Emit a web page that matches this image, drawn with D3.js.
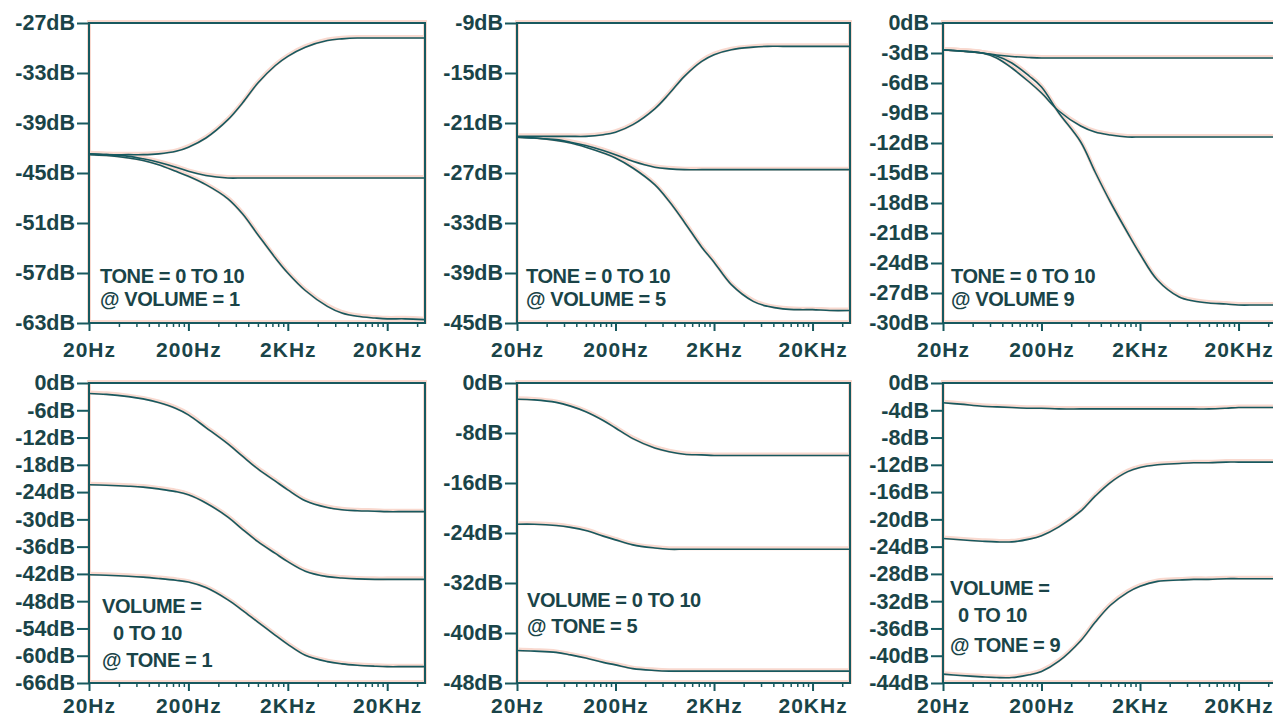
<!DOCTYPE html>
<html>
<head>
<meta charset="utf-8">
<script src="https://cdn.jsdelivr.net/npm/d3@7"></script>
<style>
  html, body { margin: 0; padding: 0; background: #ffffff; }
  svg { display: block; }
  text { font-family: "Liberation Sans", Arial, sans-serif; font-weight: bold; fill: #1a4448; }
</style>
</head>
<body>
<script>
// ---------------- DATA ----------------
const freqs = [20, 30, 50, 70, 100, 150, 200, 300, 500, 700, 1000, 1500, 2000, 3000, 5000, 7000, 10000, 15000, 20000, 30000, 48000];

const xTickValues = [20, 200, 2000, 20000];
const xTickLabels = ["20Hz", "200Hz", "2KHz", "20KHz"];

// Panel 1: TONE = 0 TO 10 @ VOLUME = 1
const vol1Ticks = [-27, -33, -39, -45, -51, -57, -63];
const vol1ToneHigh = [-42.7, -42.8, -42.8, -42.8, -42.7, -42.4, -41.9, -40.8, -38.6, -36.6, -34.2, -32.1, -31.0, -29.9, -29.1, -28.9, -28.8, -28.8, -28.8, -28.8, -28.8];
const vol1ToneMid  = [-42.7, -42.8, -43.0, -43.3, -43.7, -44.3, -44.8, -45.3, -45.6, -45.6, -45.6, -45.6, -45.6, -45.6, -45.6, -45.6, -45.6, -45.6, -45.6, -45.6, -45.6];
const vol1ToneLow  = [-42.8, -42.9, -43.2, -43.5, -44.0, -44.8, -45.4, -46.4, -48.1, -49.9, -52.4, -55.2, -57.0, -59.1, -61.0, -61.8, -62.2, -62.4, -62.5, -62.5, -62.6];

// Panel 2: TONE = 0 TO 10 @ VOLUME = 5
const vol5Ticks = [-9, -15, -21, -27, -33, -39, -45];
const vol5ToneHigh = [-22.6, -22.6, -22.6, -22.6, -22.6, -22.4, -22.1, -21.2, -19.3, -17.5, -15.4, -13.6, -12.8, -12.2, -11.9, -11.8, -11.8, -11.8, -11.8, -11.8, -11.8];
const vol5ToneMid  = [-22.7, -22.8, -23.0, -23.3, -23.7, -24.3, -24.8, -25.6, -26.3, -26.5, -26.6, -26.6, -26.6, -26.6, -26.6, -26.6, -26.6, -26.6, -26.6, -26.6, -26.6];
const vol5ToneLow  = [-22.7, -22.8, -23.1, -23.4, -23.9, -24.6, -25.2, -26.4, -28.4, -30.4, -32.9, -35.9, -37.7, -40.4, -42.4, -43.0, -43.3, -43.4, -43.4, -43.5, -43.5];

// Panel 3: TONE = 0 TO 10 @ VOLUME 9
const vol9Ticks = [0, -3, -6, -9, -12, -15, -18, -21, -24, -27, -30];
const vol9ToneHigh = [-2.7, -2.8, -3.0, -3.2, -3.35, -3.45, -3.5, -3.5, -3.5, -3.5, -3.5, -3.5, -3.5, -3.5, -3.5, -3.5, -3.5, -3.5, -3.5, -3.5, -3.5];
const vol9ToneMid  = [-2.7, -2.8, -3.0, -3.5, -4.5, -5.9, -7.0, -8.8, -10.3, -10.9, -11.2, -11.4, -11.4, -11.4, -11.4, -11.4, -11.4, -11.4, -11.4, -11.4, -11.4];
const vol9ToneLow  = [-2.7, -2.8, -3.0, -3.3, -4.0, -5.3, -6.4, -9.0, -11.9, -14.9, -17.9, -21.0, -23.1, -25.7, -27.4, -27.8, -28.0, -28.1, -28.2, -28.2, -28.2];

// Panel 4: VOLUME = 0 TO 10 @ TONE = 1
const tone1Ticks = [0, -6, -12, -18, -24, -30, -36, -42, -48, -54, -60, -66];
const tone1VolHigh = [-2.3, -2.5, -3.0, -3.5, -4.3, -5.6, -7.0, -9.8, -13.4, -16.1, -18.9, -21.6, -23.5, -25.9, -27.4, -27.9, -28.1, -28.2, -28.3, -28.3, -28.3];
const tone1VolMid  = [-22.4, -22.5, -22.7, -22.9, -23.3, -23.9, -24.6, -26.4, -29.5, -32.2, -34.9, -37.5, -39.3, -41.4, -42.6, -42.9, -43.1, -43.2, -43.2, -43.2, -43.2];
const tone1VolLow  = [-42.2, -42.3, -42.5, -42.7, -43.0, -43.4, -43.8, -45.0, -47.7, -50.0, -52.6, -55.5, -57.5, -59.9, -61.3, -61.8, -62.1, -62.3, -62.4, -62.4, -62.4];

// Panel 5: VOLUME = 0 TO 10 @ TONE = 5
const tone5Ticks = [0, -8, -16, -24, -32, -40, -48];
const tone5VolHigh = [-2.6, -2.7, -3.1, -3.7, -4.6, -6.0, -7.2, -8.9, -10.4, -11.0, -11.4, -11.5, -11.6, -11.6, -11.6, -11.6, -11.6, -11.6, -11.6, -11.6, -11.6];
const tone5VolMid  = [-22.6, -22.6, -22.8, -23.1, -23.6, -24.5, -25.1, -25.9, -26.4, -26.6, -26.6, -26.6, -26.6, -26.6, -26.6, -26.6, -26.6, -26.6, -26.6, -26.6, -26.6];
const tone5VolLow  = [-42.8, -42.9, -43.1, -43.5, -44.0, -44.7, -45.1, -45.7, -46.0, -46.1, -46.1, -46.1, -46.1, -46.1, -46.1, -46.1, -46.1, -46.1, -46.1, -46.1, -46.1];

// Panel 6: VOLUME = 0 TO 10 @ TONE = 9
const tone9Ticks = [0, -4, -8, -12, -16, -20, -24, -28, -32, -36, -40, -44];
const tone9VolHigh = [-2.9, -3.1, -3.4, -3.5, -3.6, -3.7, -3.7, -3.8, -3.8, -3.8, -3.8, -3.8, -3.8, -3.8, -3.8, -3.8, -3.8, -3.7, -3.6, -3.6, -3.6];
const tone9VolMid  = [-22.8, -23.0, -23.2, -23.3, -23.3, -22.9, -22.4, -21.1, -18.8, -16.6, -14.6, -13.0, -12.4, -12.0, -11.8, -11.7, -11.7, -11.6, -11.6, -11.6, -11.6];
const tone9VolLow  = [-42.7, -42.9, -43.1, -43.2, -43.2, -42.8, -42.3, -40.8, -37.8, -35.1, -32.6, -30.7, -29.8, -29.1, -28.9, -28.8, -28.8, -28.7, -28.7, -28.7, -28.7];

const labelVol1 = ["TONE = 0 TO 10", "@ VOLUME = 1"];
const labelVol5 = ["TONE = 0 TO 10", "@ VOLUME = 5"];
const labelVol9 = ["TONE = 0 TO 10", "@ VOLUME 9"];
const labelTone1 = ["VOLUME =", "0 TO 10", "@ TONE = 1"];
const labelTone5 = ["VOLUME = 0 TO 10", "@ TONE = 5"];
const labelTone9 = ["VOLUME =", "0 TO 10", "@ TONE = 9"];

// ---------------- DRAW ----------------
const W = 1273, H = 718;
const LINE = "#17595f";
const HALO = "#f9d9cf";
const FONT = "'Liberation Sans', Arial, sans-serif";
const svg = d3.select("body").append("svg").attr("width", W).attr("height", H);

const panels = [
  { left: 89,  top: 23,  width: 336, pad: 11, ticks: vol1Ticks, series: [vol1ToneHigh, vol1ToneMid, vol1ToneLow], label: labelVol1,
    labelPos: [[100, 283], [100, 306]] },
  { left: 517, top: 23,  width: 333, pad: 11, ticks: vol5Ticks, series: [vol5ToneHigh, vol5ToneMid, vol5ToneLow], label: labelVol5,
    labelPos: [[526, 283], [526, 306]] },
  { left: 943, top: 23,  width: 333, pad: 11, ticks: vol9Ticks, series: [vol9ToneHigh, vol9ToneMid, vol9ToneLow], label: labelVol9,
    labelPos: [[951, 283], [951, 306]] },
  { left: 89,  top: 383, width: 336, pad: 7, ticks: tone1Ticks, series: [tone1VolHigh, tone1VolMid, tone1VolLow], label: labelTone1,
    labelPos: [[102, 613], [113, 640], [102, 667]] },
  { left: 517, top: 383, width: 333, pad: 7, ticks: tone5Ticks, series: [tone5VolHigh, tone5VolMid, tone5VolLow], label: labelTone5,
    labelPos: [[527, 607], [527, 633]] },
  { left: 943, top: 383, width: 333, pad: 7, ticks: tone9Ticks, series: [tone9VolHigh, tone9VolMid, tone9VolLow], label: labelTone9,
    labelPos: [[950, 595], [958, 622], [950, 652]] }
];

const PH = 300;
const minorTicks = [];
[20, 200, 2000, 20000].forEach(base => { for (let k = 2; k <= 9; k++) { const v = base * k; if (v < 48000) minorTicks.push(v); } });

panels.forEach(p => {
  const x = d3.scaleLog().domain([20, 48000]).range([p.left, p.left + p.width]);
  const yMax = d3.max(p.ticks), yMin = d3.min(p.ticks);
  const y = d3.scaleLinear().domain([yMin, yMax]).range([p.top + PH, p.top]);
  const g = svg.append("g");
  const line = d3.line().x((d, i) => x(freqs[i])).y(d => y(d)).curve(d3.curveCatmullRom.alpha(0.5));

  // faint halo (scan artifact look)
  g.append("rect").attr("x", p.left).attr("y", p.top - 1).attr("width", p.width).attr("height", PH)
    .attr("fill", "none").attr("stroke", HALO).attr("stroke-width", 4);
  p.series.forEach(s => {
    g.append("path").datum(s).attr("d", line).attr("fill", "none")
      .attr("stroke", HALO).attr("stroke-width", 4).attr("transform", "translate(0,-1)");
  });

  // minor x ticks
  const minorAxis = d3.axisBottom(x).tickValues(minorTicks).tickSize(4).tickFormat("");
  const gm = g.append("g").attr("transform", `translate(0,${p.top + PH})`).call(minorAxis);
  gm.select(".domain").remove();
  gm.selectAll("line").attr("stroke", LINE).attr("stroke-width", 1.5);

  // major x ticks with labels
  const majorAxis = d3.axisBottom(x).tickValues(xTickValues).tickSize(8).tickPadding(p.pad)
    .tickFormat((d, i) => xTickLabels[i]);
  const gx = g.append("g").attr("transform", `translate(0,${p.top + PH})`).call(majorAxis);
  gx.select(".domain").remove();
  gx.selectAll("line").attr("stroke", LINE).attr("stroke-width", 2);
  gx.selectAll("text").attr("font-size", 21).attr("fill", "#1a4448").attr("letter-spacing", "1px")
    .style("font-family", FONT).style("font-weight", "bold");

  // y axis
  const yAxis = d3.axisLeft(y).tickValues(p.ticks).tickSize(12).tickPadding(2).tickFormat(d => d + "dB");
  const gy = g.append("g").attr("transform", `translate(${p.left},0)`).call(yAxis);
  gy.select(".domain").remove();
  gy.selectAll("line").attr("stroke", LINE).attr("stroke-width", 2);
  gy.selectAll("text").attr("font-size", 21.5).attr("fill", "#1a4448")
    .style("font-family", FONT).style("font-weight", "bold");

  // frame
  g.append("rect").attr("x", p.left).attr("y", p.top).attr("width", p.width).attr("height", PH)
    .attr("fill", "none").attr("stroke", LINE).attr("stroke-width", 2);

  // curves
  p.series.forEach(s => {
    g.append("path").datum(s).attr("d", line).attr("fill", "none")
      .attr("stroke", LINE).attr("stroke-width", 1.6);
  });

  // annotation
  p.label.forEach((t, i) => {
    g.append("text").attr("x", p.labelPos[i][0]).attr("y", p.labelPos[i][1])
      .attr("font-size", 20).attr("letter-spacing", "-0.4px")
      .text(t);
  });
});
</script>
</body>
</html>
